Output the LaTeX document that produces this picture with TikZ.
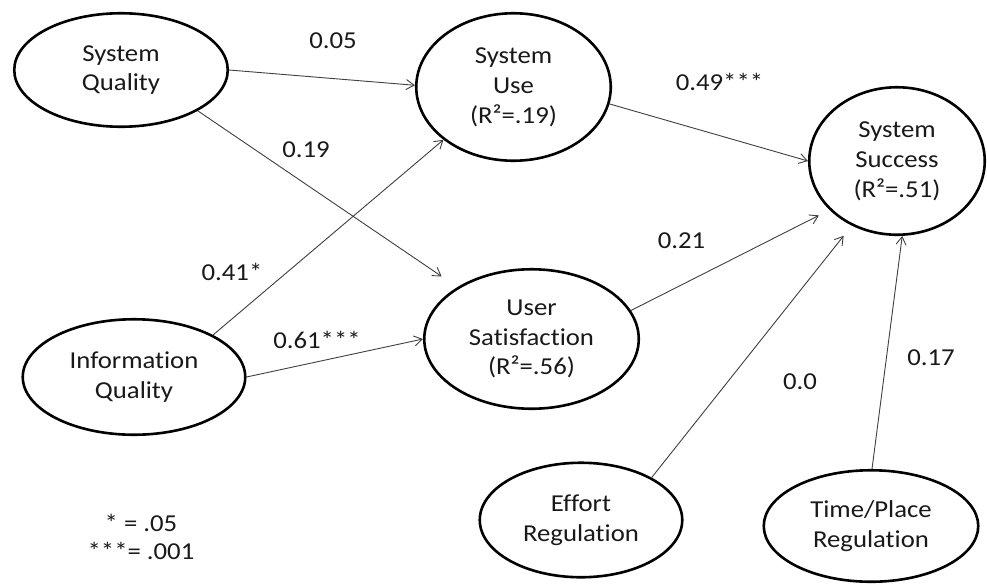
\documentclass[tikz,border=0pt]{standalone}
\usepackage{fontspec}
\setmainfont{Carlito}[FakeStretch=1.1, Ligatures=NoCommon, RawFeature={-liga;-clig;-dlig}]
\usetikzlibrary{shapes.geometric,arrows.meta}

\begin{document}
\begin{tikzpicture}[x=1pt,y=-1pt,
  construct/.style={ellipse, draw=black, line width=2.6pt, inner sep=0pt,
    align=center, text=black!90, font=\fontsize{24.3}{29.8}\selectfont},
  link/.style={draw=black!75, line width=0.9pt,
    -{Straight Barb[length=8pt,width=10pt]}},
  coef/.style={anchor=base, inner sep=0pt, text=black!90,
    font=\fontsize{24.3}{29.8}\selectfont}
]
\useasboundingbox (0,0) rectangle (987,584);
\fill[white] (0,0) rectangle (987,584);

% constructs of the model
\node[construct, minimum width=213.5pt, minimum height=113.5pt] (sq) at (121,70) {System\\Quality};
\node[construct, minimum width=194.5pt, minimum height=147.5pt] (su) at (513.5,87) {System\\Use\\(R²=.19)};
\node[construct, minimum width=175.5pt, minimum height=147.5pt] (ss) at (897,161) {System\\Success\\(R²=.51)};
\node[construct, minimum width=222.5pt, minimum height=115.5pt] (iq) at (134,377) {Information\\Quality};
\node[construct, minimum width=214.5pt, minimum height=139.5pt] (us) at (531.5,339) {User\\Satisfaction\\(R²=.56)};
\node[construct, minimum width=202.5pt, minimum height=114.5pt] (er) at (581,520) {Effort\\Regulation};
\node[construct, minimum width=214.5pt, minimum height=111.5pt] (tp) at (871,526) {Time/Place\\Regulation};

% paths
\draw[link] (sq.0) -- (su.179);
\draw[link, shorten >=19pt] (sq.-28.6) -- (us.145);
\draw[link] (iq.28.5) -- (su.-143);
\draw[link] (iq.0) -- (us.180.5);
\draw[link] (su.-10) -- (ss.180);
\draw[link, shorten >=12pt] (us.16) -- (ss.-144);
\draw[link, shorten >=13pt] (er.31.3) -- (ss.-125);
\draw[link] (tp.89) -- (ss.-86);

% path coefficients
\node[coef] (c1) at (333,48) {0.05};
\node[coef] (c2) at (306,157) {0.19};
\node[coef] (c3) at (232,280) {0.41*};
\node[coef] (c4) at (317,348) {0.61***};
\node[coef] (c5) at (719.5,90) {0.49***};
\node[coef] (c6) at (681.5,248) {0.21};
\node[coef] (c7) at (800,389) {0.0};
\node[coef] (c8) at (931,365) {0.17};

% significance legend
\node[coef] (l1) at (141,531) {* = .05};
\node[coef] (l2) at (141,559) {***= .001};
\end{tikzpicture}
\end{document}
